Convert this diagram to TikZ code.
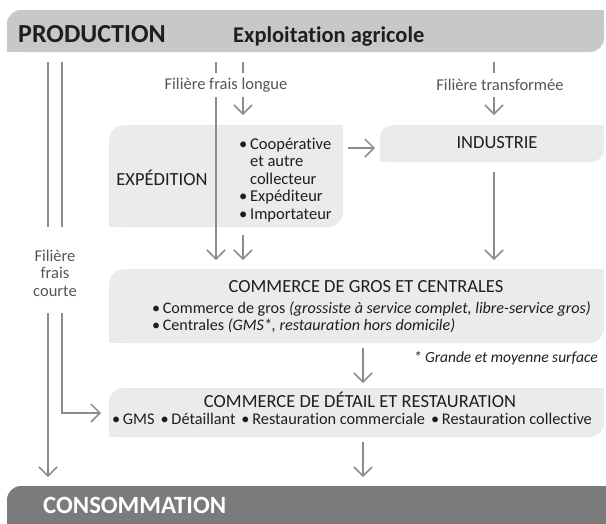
\documentclass[tikz,border=0pt]{standalone}
\usepackage{fontspec}
\setmainfont{Carlito}[Ligatures=NoCommon]
\usetikzlibrary{arrows.meta}
\definecolor{barA}{HTML}{C8C8C8}
\definecolor{boxB}{HTML}{EBEBEB}
\definecolor{barC}{HTML}{7B7B7B}
\definecolor{lineC}{HTML}{8C8C8C}
\definecolor{txtD}{HTML}{1E1E1E}
\definecolor{txtL}{HTML}{555555}
\newcommand\halfround[6]{%
  \fill[#1,rounded corners=#6] (#2,#3) rectangle (#4,#5);
  \fill[#1] ({#4-16},#3) rectangle (#4,{#3+16});
  \fill[#1] (#2,{#5-16}) rectangle ({#2+16},#5);}
\begin{document}
\begin{tikzpicture}[x=1pt,y=-1pt,
  flow/.style={draw=lineC,line width=1.5pt},
  arr/.style={flow,-{Straight Barb[length=9pt,width=18pt,line width=1.5pt]}},
  bartext/.style={inner sep=0pt,anchor=base west,font=\bfseries\fontsize{26}{26}\selectfont,text=txtD},
  title/.style={inner sep=0pt,font=\fontsize{18.5}{20}\selectfont,text=txtD},
  item/.style={inner sep=0pt,anchor=base west,font=\fontsize{16.5}{17.5}\selectfont,text=txtD},
  lbl/.style={inner sep=0pt,font=\fontsize{16.5}{17.5}\selectfont,text=txtL,align=center}]
\useasboundingbox (0,0) rectangle (606,523);
% bars and boxes
\halfround{barA}{7}{10}{604}{52}{14pt}
\halfround{barC}{7}{486}{640}{560}{14pt}
\halfround{boxB}{109}{125}{343}{227}{15pt}
\halfround{boxB}{380}{125}{604}{162}{13pt}
\halfround{boxB}{109}{269}{604}{343}{15pt}
\halfround{boxB}{109}{388}{604}{437}{14pt}
% texts
\node[bartext] (prod) at (18,42) {PRODUCTION};
\node[bartext,font=\bfseries\fontsize{22.5}{22.5}\selectfont] (expl) at (233,42) {Exploitation agricole};
\node[bartext,text=white,font=\bfseries\fontsize{24.8}{24.8}\selectfont] (conso) at (43,513) {CONSOMMATION};
\node[lbl] (flongue) at (226,85) {Filière frais longue};
\node[lbl] (ftransf) at (500,85) {Filière transformée};
\node[lbl] (fcourte) at (55,273) {Filière\\frais\\courte};
\node[title] (expt) at (162,178) {EXPÉDITION};
\node[item] (e1) at (239,149) {\textbullet\,Coopérative};
\node[item] (e2) at (239,166.5) {\phantom{\textbullet\,}et autre};
\node[item] (e3) at (239,184) {\phantom{\textbullet\,}collecteur};
\node[item] (e4) at (239,201.5) {\textbullet\,Expéditeur};
\node[item] (e5) at (239,219) {\textbullet\,Importateur};
\node[title] (indt) at (497,143) {INDUSTRIE};
\node[title] (grost) at (366,287) {COMMERCE DE GROS ET CENTRALES};
\node[item,font=\fontsize{16.1}{17.5}\selectfont] (g1) at (152,313) {\textbullet\,Commerce de gros \textit{(grossiste à service complet, libre-service gros)}};
\node[item,font=\fontsize{16.1}{17.5}\selectfont] (g2) at (152,330) {\textbullet\,Centrales \textit{(GMS*, restauration hors domicile)}};
\node[inner sep=0pt,anchor=base east,font=\itshape\fontsize{15.5}{16}\selectfont,text=txtD] (foot) at (598,362) {* Grande et moyenne surface};
\node[title] (dett) at (360,400) {COMMERCE DE DÉTAIL ET RESTAURATION};
\node[inner sep=0pt,font=\fontsize{16.3}{17.5}\selectfont,text=txtD] (d1) at (352,419) {\textbullet\,GMS\hspace{6pt}\textbullet\,Détaillant\hspace{6pt}\textbullet\,Restauration commerciale\hspace{6pt}\textbullet\,Restauration collective};
% coordinates
\coordinate (L1a) at (48,62); \coordinate (L1b) at (48,227);
\coordinate (L1c) at (48,313); \coordinate (L1d) at (48,477);
\coordinate (L2a) at (62,62); \coordinate (L2b) at (62,227);
\coordinate (L2c) at (62,313); \coordinate (L2k) at (62,413); \coordinate (L2d) at (101,413);
\coordinate (Fa1) at (216,62); \coordinate (Fa2) at (216,73);
\coordinate (Fa3) at (216,97); \coordinate (Fa4) at (216,260);
\coordinate (Fb1) at (243,62); \coordinate (Fb2) at (243,73);
\coordinate (Fb3) at (243,97); \coordinate (Fb4) at (243,115);
\coordinate (Fb5) at (243,235); \coordinate (Fb6) at (243,260);
\coordinate (T1) at (494,62); \coordinate (T2) at (494,73);
\coordinate (T3) at (494,97); \coordinate (T4) at (494,115);
\coordinate (T5) at (494,172); \coordinate (T6) at (494,260);
\coordinate (X1) at (348,148); \coordinate (X2) at (375,148);
\coordinate (G1) at (363,348); \coordinate (G2) at (363,383);
\coordinate (D1) at (363,442); \coordinate (D2) at (363,477);
% connectors
\draw[flow] (L1a) -- (L1b);
\draw[arr] (L1c) -- (L1d);
\draw[flow] (L2a) -- (L2b);
\draw[arr] (L2c) -- (L2k) -- (L2d);
\draw[flow] (Fa1) -- (Fa2);
\draw[arr] (Fa3) -- (Fa4);
\draw[flow] (Fb1) -- (Fb2);
\draw[arr] (Fb3) -- (Fb4);
\draw[arr] (Fb5) -- (Fb6);
\draw[flow] (T1) -- (T2);
\draw[arr] (T3) -- (T4);
\draw[arr] (T5) -- (T6);
\draw[arr] (X1) -- (X2);
\draw[arr] (G1) -- (G2);
\draw[arr] (D1) -- (D2);
\end{tikzpicture}
\end{document}
